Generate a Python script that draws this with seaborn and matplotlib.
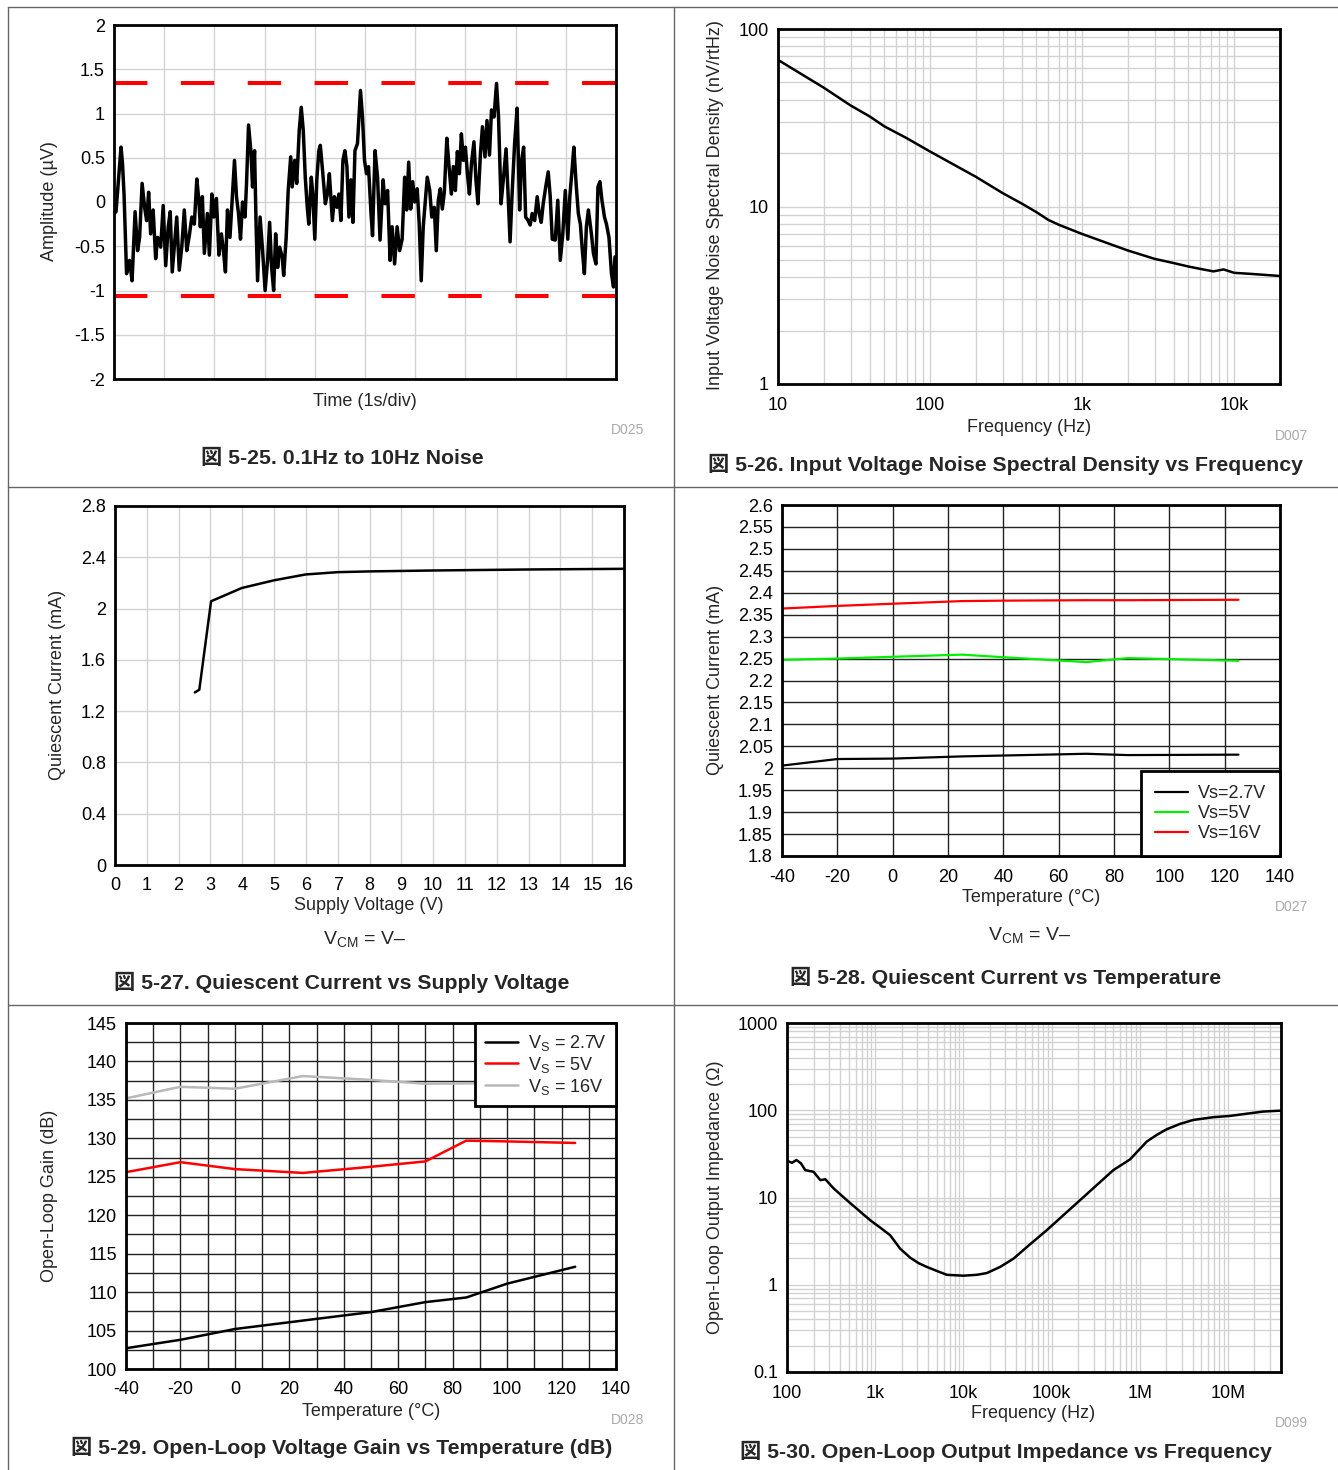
import numpy as np
import matplotlib
matplotlib.use("Agg")
import matplotlib.pyplot as plt
import matplotlib.ticker as mticker
from matplotlib.lines import Line2D
import seaborn as sns

# ---------------- data ----------------
# 5-25 : 0.1Hz to 10Hz noise (time in divisions, amplitude in uV)
noise_t = [0.00, 0.04, 0.09, 0.14, 0.17, 0.20, 0.25, 0.31, 0.36, 0.42,
           0.47, 0.51, 0.56, 0.61, 0.65, 0.69, 0.73, 0.78, 0.83, 0.87,
           0.93, 0.98, 1.03, 1.08, 1.12, 1.16, 1.21, 1.25, 1.30, 1.35,
           1.40, 1.45, 1.50, 1.55, 1.60, 1.65, 1.69, 1.72, 1.76, 1.80,
           1.86, 1.90, 1.95, 1.99, 2.04, 2.09, 2.14, 2.18, 2.22, 2.26,
           2.31, 2.36, 2.40, 2.44, 2.48, 2.52, 2.56, 2.61, 2.64, 2.68,
           2.73, 2.76, 2.80, 2.83, 2.86, 2.91, 2.96, 3.01, 3.06, 3.10,
           3.14, 3.18, 3.22, 3.26, 3.30, 3.35, 3.38, 3.43, 3.47, 3.52,
           3.55, 3.60, 3.64, 3.69, 3.73, 3.77, 3.81, 3.85, 3.88, 3.93,
           3.96, 4.00, 4.04, 4.08, 4.11, 4.16, 4.21, 4.25, 4.29, 4.35,
           4.39, 4.44, 4.48, 4.52, 4.56, 4.60, 4.64, 4.68, 4.72, 4.76,
           4.80, 4.85, 4.88, 4.91, 4.95, 4.99, 5.03, 5.07, 5.12, 5.15,
           5.20, 5.25, 5.30, 5.36, 5.40, 5.45, 5.50, 5.54, 5.59, 5.64,
           5.69, 5.74, 5.79, 5.83, 5.87, 5.91, 5.95, 5.99, 6.04, 6.08,
           6.12, 6.16, 6.20, 6.24, 6.29, 6.33, 6.38, 6.42, 6.46, 6.50,
           6.54, 6.58, 6.63, 6.67, 6.72, 6.76, 6.80, 6.84, 6.88, 6.92,
           6.96, 7.00, 7.04, 7.08, 7.12, 7.17, 7.21, 7.25, 7.30, 7.34,
           7.39, 7.43, 7.48, 7.52, 7.57, 7.62, 7.66, 7.71, 7.76, 7.81,
           7.85, 7.89, 7.93, 7.98, 8.03, 8.08, 8.12, 8.16, 8.20, 8.25,
           8.29, 8.33, 8.38, 8.43, 8.47, 8.51, 8.55, 8.60, 8.65, 8.69,
           8.73, 8.79, 8.84, 8.89, 8.94, 8.99, 9.04, 9.08, 9.13, 9.16,
           9.21, 9.25, 9.29, 9.33, 9.37, 9.41, 9.45, 9.51, 9.55, 9.60,
           9.64, 9.68, 9.72, 9.77, 9.81, 9.86, 9.91, 9.95, 9.98]
noise_uv = [-0.13, -0.11, 0.25, 0.62, 0.43, 0.09, -0.81, -0.66, -0.89, -0.11,
            -0.55, -0.40, 0.21, -0.06, -0.21, 0.11, -0.36, -0.09, -0.64, -0.40,
            -0.51, -0.04, -0.72, -0.28, -0.11, -0.79, -0.45, -0.17, -0.77, -0.51,
            -0.09, -0.55, -0.38, -0.17, -0.25, 0.26, 0.02, -0.28, 0.06, -0.58,
            -0.13, -0.60, 0.09, -0.17, 0.04, -0.60, -0.36, -0.55, -0.79, -0.09,
            -0.40, 0.08, 0.47, 0.06, -0.13, -0.42, 0.00, -0.17, 0.21, 0.87,
            0.55, 0.17, 0.58, -0.25, -0.89, -0.17, -0.55, -1.00, -0.66, -0.23,
            -0.74, -1.00, -0.36, -0.74, -0.51, -0.62, -0.83, -0.40, 0.13, 0.51,
            0.17, 0.47, 0.21, 0.81, 1.07, 0.81, 0.28, -0.06, -0.25, 0.28,
            0.09, -0.42, 0.25, 0.58, 0.64, 0.32, -0.02, 0.09, 0.32, -0.21,
            0.06, -0.06, 0.09, -0.21, 0.47, 0.58, 0.40, -0.17, 0.25, -0.23,
            0.58, 0.66, 0.96, 1.26, 0.96, 0.47, 0.32, 0.40, -0.13, -0.38,
            0.58, 0.28, -0.43, 0.25, -0.02, 0.13, -0.66, -0.28, -0.70, -0.28,
            -0.55, -0.42, 0.28, -0.09, 0.45, -0.08, 0.23, 0.00, 0.15, -0.25,
            -0.89, -0.28, 0.00, 0.28, 0.13, -0.17, -0.06, -0.55, 0.02, 0.15,
            -0.08, 0.11, 0.72, 0.43, 0.09, 0.40, 0.13, 0.57, 0.32, 0.77,
            0.47, 0.62, 0.32, 0.09, 0.43, 0.68, 0.25, -0.02, 0.55, 0.85,
            0.51, 0.92, 0.53, 1.04, 0.96, 1.34, 0.96, -0.02, 0.28, 0.60,
            0.09, -0.45, 0.09, 0.66, 1.06, -0.09, 0.47, 0.62, -0.17, -0.21,
            -0.26, -0.13, -0.21, 0.06, -0.13, -0.23, -0.02, 0.17, 0.34, 0.06,
            -0.42, -0.43, 0.02, -0.66, -0.36, 0.13, -0.42, 0.06, 0.40, 0.62,
            0.17, -0.13, -0.25, -0.55, -0.81, -0.28, -0.09, -0.36, -0.58, -0.70,
            0.17, 0.23, 0.02, -0.17, -0.25, -0.40, -0.81, -0.96, -0.62]
noise_limits = [1.35, -1.06]

# 5-26 : input voltage noise spectral density
nsd_freq = [10, 20, 30, 40, 50, 70, 100, 200, 300, 400, 500, 600, 700, 1000,
            2000, 3000, 4000, 5000, 6000, 7300, 8500, 10000, 13000, 20000]
nsd_val = [67, 46.7, 37.1, 32.2, 28.3, 24.3, 20.4, 14.7, 11.9, 10.4, 9.3, 8.4,
           7.9, 7.0, 5.65, 5.07, 4.80, 4.59, 4.45, 4.31, 4.42, 4.23, 4.17, 4.06]

# 5-27 : quiescent current vs supply voltage
iq_vs = [2.51, 2.65, 3.02, 3.98, 4.99, 5.99, 7.0, 8.03, 10.0, 13.05, 16.0]
iq_ma = [1.346, 1.367, 2.057, 2.16, 2.22, 2.266, 2.284, 2.29, 2.297, 2.305, 2.31]

# 5-28 : quiescent current vs temperature
iq_temp = [-40, -20, 0, 25, 40, 70, 85, 125]
iq_27v = [2.006, 2.021, 2.022, 2.027, 2.029, 2.033, 2.030, 2.031]
iq_5v = [2.247, 2.250, 2.254, 2.259, 2.253, 2.242, 2.251, 2.245]
iq_16v = [2.364, 2.370, 2.375, 2.381, 2.382, 2.383, 2.383, 2.384]

# 5-29 : open-loop gain vs temperature
aol_temp = [-40, -20, 0, 25, 50, 70, 85, 100, 125]
aol_27v = [102.7, 103.8, 105.2, 106.3, 107.4, 108.7, 109.3, 111.1, 113.3]
aol_5v = [125.6, 126.9, 126.0, 125.5, 126.3, 127.0, 129.7, 129.6, 129.4]
aol_16v = [135.2, 136.7, 136.45, 138.1, 137.6, 137.1, 137.15, 137.2, 137.2]

# 5-30 : open-loop output impedance
zo_freq = [100, 114, 128, 144, 161, 200, 239, 272, 338, 478, 880, 1140, 1480,
           1920, 2500, 3100, 3850, 5000, 6500, 10000, 14200, 18400, 26100,
           37000, 57100, 88300, 210000, 502000, 776000, 1.2e6, 1.55e6, 2.02e6,
           2.86e6, 4.05e6, 6.8e6, 1.05e7, 2.51e7, 4.0e7]
zo_ohm = [26.4, 25.0, 26.9, 24.6, 20.6, 19.7, 15.8, 16.2, 12.7, 9.3, 5.48, 4.52,
          3.69, 2.59, 2.04, 1.77, 1.60, 1.44, 1.30, 1.27, 1.30, 1.36, 1.60,
          1.99, 2.91, 4.22, 9.3, 20.6, 27.3, 43.7, 52.0, 60.5,
          69.7, 77.4, 83.2, 86.1, 96.6, 99.0]

# ---------------- figure ----------------
sns.set_style("white")
plt.rcParams['font.family'] = ['Liberation Sans', 'Noto Sans CJK JP']
plt.rcParams['axes.unicode_minus'] = False
plt.rcParams['mathtext.fontset'] = 'custom'
plt.rcParams['mathtext.rm'] = 'Liberation Sans'
plt.rcParams['font.size'] = 13

W, H = 1338, 1470
fig = plt.figure(figsize=(W / 100, H / 100), dpi=100)


def rect(l, t, r, b):
    return [l / W, 1 - b / H, (r - l) / W, (b - t) / H]


def ftext(x, y, s, **kw):
    kw.setdefault('ha', 'center')
    kw.setdefault('va', 'center')
    fig.text(x / W, 1 - y / H, s, **kw)


def style(ax, gridcolor):
    for s in ax.spines.values():
        s.set_linewidth(2)
        s.set_color('black')
    ax.tick_params(which='both', length=0, labelsize=13, colors='black')
    ax.tick_params(axis='x', pad=9)
    ax.tick_params(axis='y', pad=6.5)
    ax.grid(True, which='both', color=gridcolor, lw=1)
    ax.set_axisbelow(True)
    ax.set_xlabel('')
    ax.set_ylabel('')


fmt = mticker.FuncFormatter(lambda v, p: f'{round(v, 2):g}')
light = '#d2d2d2'
dark = '#222222'
cap = dict(fontsize=15.3, fontweight='bold')

# borders of the six cells
for xs, ys in [([8, 8], [7, 1470]), ([8, 1338], [7, 7]), ([674, 674], [7, 1470]),
               ([8, 1338], [487, 487]), ([8, 1338], [1005, 1005])]:
    fig.add_artist(Line2D([x / W for x in xs], [1 - y / H for y in ys],
                          color='#666666', lw=1))

# ---- 5-25
ax1 = fig.add_axes(rect(114, 25, 616, 379))
for lim in noise_limits:
    ax1.axhline(lim, color='red', lw=2.9, linestyle=(0, (8.3, 8.3)), zorder=2)
sns.lineplot(x=noise_t, y=noise_uv, ax=ax1, color='black', lw=2.5, zorder=3)
ax1.set_xlim(0, 10)
ax1.set_ylim(-2, 2)
ax1.xaxis.set_major_locator(mticker.MultipleLocator(1))
ax1.xaxis.set_major_formatter(mticker.NullFormatter())
ax1.yaxis.set_major_locator(mticker.MultipleLocator(0.5))
ax1.yaxis.set_major_formatter(fmt)
style(ax1, light)
ftext(50, 201, 'Amplitude (µV)', rotation=90, fontsize=13)
ftext(365, 401, 'Time (1s/div)', fontsize=13)
ftext(644, 430, 'D025', ha='right', fontsize=10, color='#aaaaaa')
ftext(342, 458, '図 5-25. 0.1Hz to 10Hz Noise', **cap)

# ---- 5-26
ax2 = fig.add_axes(rect(778, 29, 1280, 384))
sns.lineplot(x=nsd_freq, y=nsd_val, ax=ax2, color='black', lw=1.8)
ax2.set_xscale('log')
ax2.set_yscale('log')
ax2.set_xlim(10, 20000)
ax2.set_ylim(1, 100)
ax2.xaxis.set_major_locator(mticker.FixedLocator([10, 100, 1000, 10000]))
ax2.xaxis.set_major_formatter(mticker.FixedFormatter(['10', '100', '1k', '10k']))
ax2.yaxis.set_major_locator(mticker.FixedLocator([1, 10, 100]))
ax2.yaxis.set_major_formatter(mticker.FixedFormatter(['1', '10', '100']))
for a in (ax2.xaxis, ax2.yaxis):
    a.set_minor_locator(mticker.LogLocator(base=10, subs=np.arange(2, 10), numticks=20))
    a.set_minor_formatter(mticker.NullFormatter())
style(ax2, light)
ftext(716, 205, 'Input Voltage Noise Spectral Density (nV/rtHz)', rotation=90, fontsize=13)
ftext(1029, 427, 'Frequency (Hz)', fontsize=13)
ftext(1308, 436, 'D007', ha='right', fontsize=10, color='#aaaaaa')
ftext(1006, 464, '図 5-26. Input Voltage Noise Spectral Density vs Frequency', **cap)

# ---- 5-27
ax3 = fig.add_axes(rect(115, 506, 624, 865))
sns.lineplot(x=iq_vs, y=iq_ma, ax=ax3, color='black', lw=1.8)
ax3.set_xlim(0, 16)
ax3.set_ylim(0, 2.8)
ax3.xaxis.set_major_locator(mticker.MultipleLocator(1))
ax3.yaxis.set_major_locator(mticker.MultipleLocator(0.4))
ax3.yaxis.set_major_formatter(fmt)
style(ax3, light)
ftext(57, 685, 'Quiescent Current (mA)', rotation=90, fontsize=13)
ftext(369, 905, 'Supply Voltage (V)', fontsize=13)
ftext(365, 940, r'V$_{\rm CM}$ = V–', fontsize=14)
ftext(342, 982, '図 5-27. Quiescent Current vs Supply Voltage', **cap)

# ---- 5-28
ax4 = fig.add_axes(rect(782, 505, 1280, 856))
sns.lineplot(x=iq_temp, y=iq_27v, ax=ax4, color='black', lw=1.6, label='Vs=2.7V')
sns.lineplot(x=iq_temp, y=iq_5v, ax=ax4, color='#00ee00', lw=1.6, label='Vs=5V')
sns.lineplot(x=iq_temp, y=iq_16v, ax=ax4, color='#ff0000', lw=1.6, label='Vs=16V')
ax4.set_xlim(-40, 140)
ax4.set_ylim(1.8, 2.6)
ax4.xaxis.set_major_locator(mticker.MultipleLocator(20))
ax4.yaxis.set_major_locator(mticker.MultipleLocator(0.05))
ax4.yaxis.set_major_formatter(fmt)
style(ax4, dark)
leg = ax4.legend(loc='lower right', frameon=True, fancybox=False, edgecolor='black',
                 framealpha=1, borderaxespad=0, handlelength=1.85, handletextpad=0.55,
                 labelspacing=0.18, borderpad=0.75, fontsize=13)
leg.get_frame().set_linewidth(2)
ftext(716, 680, 'Quiescent Current (mA)', rotation=90, fontsize=13)
ftext(1031, 898, 'Temperature (°C)', fontsize=13)
ftext(1308, 907, 'D027', ha='right', fontsize=10, color='#aaaaaa')
ftext(1030, 936, r'V$_{\rm CM}$ = V–', fontsize=14)
ftext(1006, 977, '図 5-28. Quiescent Current vs Temperature', **cap)

# ---- 5-29
ax5 = fig.add_axes(rect(126, 1023, 616, 1369))
sns.lineplot(x=aol_temp, y=aol_27v, ax=ax5, color='black', lw=1.8, label=r'V$_{\rm S}$ = 2.7V')
sns.lineplot(x=aol_temp, y=aol_5v, ax=ax5, color='#ff0000', lw=1.8, label=r'V$_{\rm S}$ = 5V')
sns.lineplot(x=aol_temp, y=aol_16v, ax=ax5, color='#b8b8b8', lw=1.8, label=r'V$_{\rm S}$ = 16V')
ax5.set_xlim(-40, 140)
ax5.set_ylim(100, 145)
ax5.xaxis.set_major_locator(mticker.MultipleLocator(20))
ax5.xaxis.set_minor_locator(mticker.MultipleLocator(10))
ax5.yaxis.set_major_locator(mticker.MultipleLocator(5))
ax5.yaxis.set_minor_locator(mticker.MultipleLocator(2.5))
style(ax5, dark)
leg = ax5.legend(loc='upper right', frameon=True, fancybox=False, edgecolor='black',
                 framealpha=1, borderaxespad=0, handlelength=1.85, handletextpad=0.5,
                 labelspacing=0.1, borderpad=0.55, fontsize=13)
leg.get_frame().set_linewidth(2)
ftext(50, 1196, 'Open-Loop Gain (dB)', rotation=90, fontsize=13)
ftext(371, 1411, 'Temperature (°C)', fontsize=13)
ftext(644, 1420, 'D028', ha='right', fontsize=10, color='#aaaaaa')
ftext(342, 1447, '図 5-29. Open-Loop Voltage Gain vs Temperature (dB)', **cap)

# ---- 5-30
ax6 = fig.add_axes(rect(787, 1023, 1281, 1372))
sns.lineplot(x=zo_freq, y=zo_ohm, ax=ax6, color='black', lw=1.8)
ax6.set_xscale('log')
ax6.set_yscale('log')
ax6.set_xlim(100, 4e7)
ax6.set_ylim(0.1, 1000)
ax6.xaxis.set_major_locator(mticker.FixedLocator([1e2, 1e3, 1e4, 1e5, 1e6, 1e7]))
ax6.xaxis.set_major_formatter(mticker.FixedFormatter(['100', '1k', '10k', '100k', '1M', '10M']))
ax6.yaxis.set_major_locator(mticker.FixedLocator([0.1, 1, 10, 100, 1000]))
ax6.yaxis.set_major_formatter(mticker.FixedFormatter(['0.1', '1', '10', '100', '1000']))
for a in (ax6.xaxis, ax6.yaxis):
    a.set_minor_locator(mticker.LogLocator(base=10, subs=np.arange(2, 10), numticks=20))
    a.set_minor_formatter(mticker.NullFormatter())
style(ax6, light)
ftext(716, 1197, 'Open-Loop Output Impedance (Ω)', rotation=90, fontsize=13)
ftext(1033, 1414, 'Frequency (Hz)', fontsize=13)
ftext(1308, 1423, 'D099', ha='right', fontsize=10, color='#aaaaaa')
ftext(1006, 1451, '図 5-30. Open-Loop Output Impedance vs Frequency', **cap)

fig.savefig('out.png', dpi=100)
